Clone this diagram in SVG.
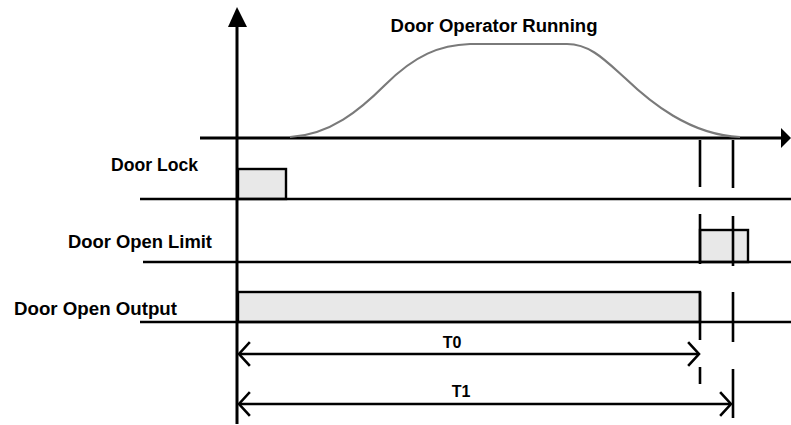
<svg xmlns="http://www.w3.org/2000/svg" width="791" height="425" viewBox="0 0 791 425">
<style>
.ax{stroke:#000;stroke-width:3;fill:none}
.ln{stroke:#000;stroke-width:2.6;fill:none}
.pulse{fill:#e8e8e8;stroke:#000;stroke-width:2.4}
.lbl{font-family:"Liberation Sans",Arial,sans-serif;font-weight:bold;font-size:18px;fill:#000}
.tl{font-family:"Liberation Sans",Arial,sans-serif;font-weight:bold;font-size:16px;fill:#000}
.chev{stroke:#000;stroke-width:2.6;fill:none;stroke-linecap:square}
</style>
<rect width="791" height="425" fill="#fff"/>
<g id="axes">
<line class="ax" x1="237" y1="24" x2="237" y2="424"/>
<polygon points="228,27 237,7 247,27" fill="#000"/>
<line class="ax" x1="200" y1="138" x2="783" y2="138"/>
<polygon points="781,128 791,138 781,148" fill="#000"/>
</g>
<g id="operator">
<text class="lbl" x="494" y="32" text-anchor="middle" textLength="207" lengthAdjust="spacingAndGlyphs">Door Operator Running</text>
<path d="M290,137 C330,135 360,110 385,85 C415,55 440,45 470,44 L567,44 C590,44 605,60 625,78 C650,102 690,135 740,137" fill="none" stroke="#7a7a7a" stroke-width="2.2"/>
</g>
<g id="door-lock">
<text class="lbl" x="111" y="171" textLength="87" lengthAdjust="spacingAndGlyphs">Door Lock</text>
<rect class="pulse" x="238" y="169" width="48" height="30"/>
<line class="ln" x1="140" y1="199" x2="791" y2="199"/>
</g>
<g id="door-open-limit">
<text class="lbl" x="68" y="248" textLength="144" lengthAdjust="spacingAndGlyphs">Door Open Limit</text>
<rect class="pulse" x="700" y="230" width="48" height="32"/>
<line class="ln" x1="143" y1="262" x2="791" y2="262"/>
</g>
<g id="door-open-output">
<text class="lbl" x="14" y="315" textLength="163" lengthAdjust="spacingAndGlyphs">Door Open Output</text>
<rect class="pulse" x="238" y="292" width="462" height="30"/>
<line class="ln" x1="140" y1="322" x2="791" y2="322"/>
</g>
<g id="markers">
<path class="ln" d="M700,140 V187 M700,214 V264 M700,292 V340 M700,367 V384"/>
<path class="ln" d="M733,140 V188 M733,216 V266 M733,292 V342 M733,369 V418"/>
</g>
<g id="connectors">
<line class="ln" x1="239" y1="354" x2="698" y2="354"/>
<polyline class="chev" points="249,343 239,354 249,365"/>
<polyline class="chev" points="689,343 699,354 689,365"/>
<line class="ln" x1="239" y1="404" x2="730" y2="404"/>
<polyline class="chev" points="249,393 239,404 249,415"/>
<polyline class="chev" points="721,393 731,404 721,415"/>
<text class="tl" x="452" y="348" text-anchor="middle">T0</text>
<text class="tl" x="461" y="397" text-anchor="middle">T1</text>
</g>
</svg>
